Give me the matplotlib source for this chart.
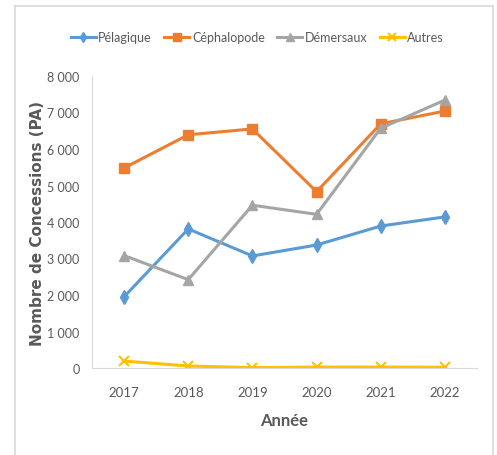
import matplotlib
matplotlib.use("Agg")
import matplotlib.pyplot as plt
from matplotlib.lines import Line2D
from matplotlib.ticker import FuncFormatter

annees = ["2017", "2018", "2019", "2020", "2021", "2022"]
pelagique = [1950, 3810, 3070, 3370, 3890, 4140]
cephalopode = [5480, 6390, 6550, 4830, 6690, 7040]
demersaux = [3080, 2420, 4460, 4210, 6570, 7340]
autres = [190, 55, 10, 25, 25, 20]

txt = "#595959"
fnt = "Lato"
fig = plt.figure(figsize=(4.97, 4.56), dpi=100)
ax = fig.add_axes([92/497, 1-369/456, (477-92)/497, (369-77)/456])

x = range(len(annees))
ax.plot(x, pelagique, color="#5B9BD5", lw=2.2, marker="d", ms=7, label="Pélagique")
ax.plot(x, cephalopode, color="#ED7D31", lw=2.2, marker="s", ms=7, label="Céphalopode")
ax.plot(x, demersaux, color="#A5A5A5", lw=2.2, marker="^", ms=7, label="Démersaux")
ax.plot(x, autres, color="#FFC000", lw=2.2, marker="x", ms=7, mew=1.5, label="Autres")

ax.set_xlim(-0.5, len(annees) - 0.5)
ax.set_ylim(0, 8000)
ax.set_xticks(list(x))
ax.set_xticklabels(annees)
ax.set_yticks(range(0, 8001, 1000))
ax.yaxis.set_major_formatter(FuncFormatter(lambda v, p: f"{int(v):,}".replace(",", " ")))
ax.tick_params(length=0, colors=txt, labelsize=9.5, labelfontfamily=fnt)
ax.tick_params(axis="x", pad=13)
ax.tick_params(axis="y", labelsize=9, pad=9)
for s in ["top", "right"]:
    ax.spines[s].set_visible(False)
for s in ["left", "bottom"]:
    ax.spines[s].set_color("#D9D9D9")

ax.set_xlabel("Année", color=txt, fontsize=12, fontweight="bold", labelpad=10, family=fnt)
ax.set_ylabel("Nombre de Concessions (PA)", color=txt, fontsize=11, fontweight="bold")
ax.yaxis.set_label_coords(-0.122, 0.5)

ax.legend(loc="center", bbox_to_anchor=(0.518, 1-38/456), bbox_transform=fig.transFigure,
          ncol=4, frameon=False, handlelength=2.0, handletextpad=0.2,
          columnspacing=1.0, labelcolor=txt, markerscale=0.75,
          prop={"family": fnt, "size": 9})

# outer frame (no bottom edge)
fx0, fx1, fy = 15/497, 493/497, 1-7/456
for xs, ys in [([fx0, fx0], [0, fy]), ([fx1, fx1], [0, fy]), ([fx0, fx1], [fy, fy])]:
    fig.add_artist(Line2D(xs, ys, color="#D9D9D9", lw=1.2, transform=fig.transFigure))

fig.savefig("out.png", dpi=100)
